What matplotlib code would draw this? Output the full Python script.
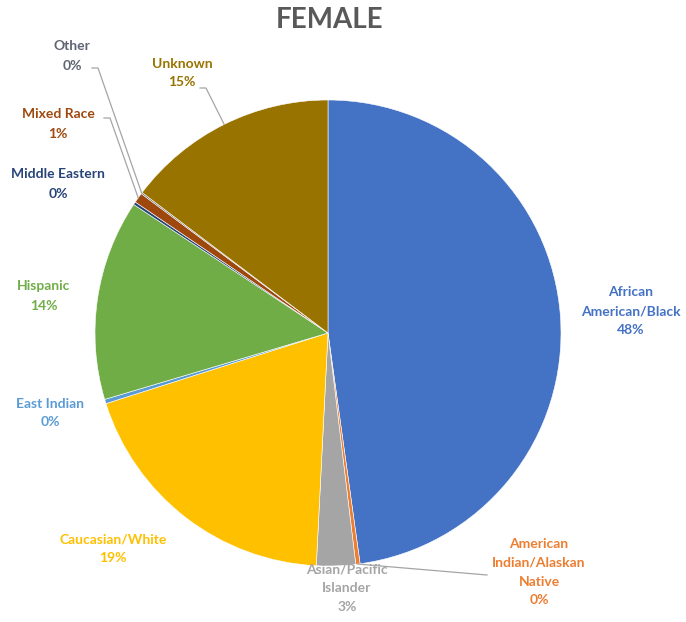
import numpy as np
import matplotlib
matplotlib.use("Agg")
import matplotlib.pyplot as plt

categories = ["African\nAmerican/Black", "American\nIndian/Alaskan\nNative", "Asian/Pacific\nIslander",
              "Caucasian/White", "East Indian", "Hispanic", "Middle Eastern", "Mixed Race", "Other", "Unknown"]
values = [47.8, 0.3, 2.7, 19.3, 0.3, 13.9, 0.2, 0.7, 0.1, 14.7]
colors = ["#4472C4", "#ED7D31", "#A5A5A5", "#FFC000", "#5B9BD5", "#70AD47", "#264478", "#9E480E", "#636363", "#997300"]
label_colors = ["#4472C4", "#ED7D31", "#A5A5A5", "#FFC000", "#5B9BD5", "#70AD47", "#264478", "#9E480E", "#5F6570", "#997300"]
title = "FEMALE"

plt.rcParams['font.family'] = ['Lato', 'DejaVu Sans']

W, H = 686, 622
cx, cy, R = 328, 333, 233
fig = plt.figure(figsize=(W / 100, H / 100), dpi=100)
ax = fig.add_axes([0, 0, 1, 1])

def px(x, y):
    return ((x - cx) / R, (cy - y) / R)

wedges, _ = ax.pie(values, colors=colors, startangle=90, counterclock=False,
                   radius=1, center=(0, 0),
                   wedgeprops=dict(edgecolor="white", linewidth=0.4))
ax.set_xlim(-cx / R, (W - cx) / R)
ax.set_ylim((cy - H) / R, cy / R)
ax.axis("off")

# label positions (pixel) and optional leader-line anchor (pixel)
label_pos = [(631, 311), (539, 572), (347, 588), (113, 549), (50, 413),
             (44, 296), (58, 184), (58, 124), (72, 56), (182, 73)]
leader = [None, (487, 575), None, None, None, None, None, (104, 118), (92, 68), (200, 88)]

for i, w in enumerate(wedges):
    txt = f"{categories[i]}\n{values[i]:.0f}%"
    x, y = px(*label_pos[i])
    ax.text(x, y, txt, ha="center", va="center", fontsize=10, fontweight="bold",
            color=label_colors[i], linespacing=1.7)
    if leader[i] is not None:
        th = np.deg2rad((w.theta1 + w.theta2) / 2)
        ex, ey = np.cos(th), np.sin(th)
        lx, ly = px(*leader[i])
        if i == 1:
            ax.plot([ex, lx], [ey, ly], color="#A5A5A5", lw=0.9)
        else:
            kx = lx + 6 / R
            ax.plot([lx, kx, ex], [ly, ly, ey], color="#A5A5A5", lw=0.9)

tx, ty = px(330, 20)
ax.text(tx, ty, title, ha="center", va="center", fontsize=20, fontweight="bold", color="#595959")

fig.savefig("out.png", dpi=100)
